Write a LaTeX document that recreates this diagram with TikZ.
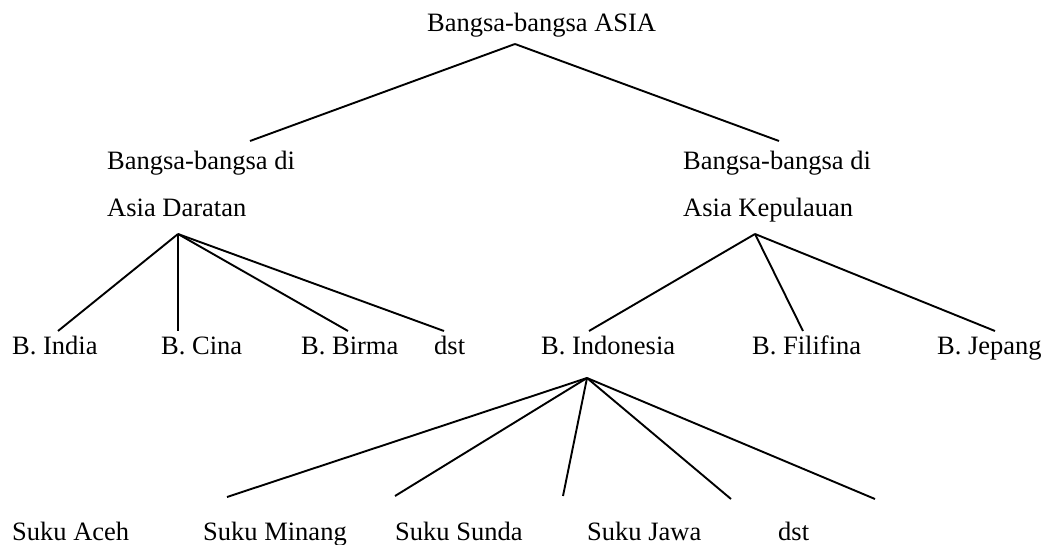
\documentclass[tikz,border=0pt]{standalone}
\usepackage{fontspec}
\setmainfont{Liberation Serif}

\begin{document}
\begin{tikzpicture}[
    x=1pt, y=-1pt,
    word/.style={anchor=base west, inner sep=0pt, font=\fontsize{26.5}{31}\selectfont},
    branch/.style={line width=1.9pt}
]
    \useasboundingbox (0,0) rectangle (1045,545);

    % Root
    \node[word] (asia) at (427,32) {Bangsa-bangsa ASIA};
    \coordinate (asiaFork) at (515,44);
    \coordinate (toDaratan) at (250,141);
    \coordinate (toKepulauan) at (779,141);
    \draw[branch] (asiaFork) -- (toDaratan);
    \draw[branch] (asiaFork) -- (toKepulauan);

    % Second level
    \node[word] (daratan) at (107,170) {Bangsa-bangsa di};
    \node[word] (daratanB) at (107,217) {Asia Daratan};
    \node[word] (kepulauan) at (683,170) {Bangsa-bangsa di};
    \node[word] (kepulauanB) at (683,217) {Asia Kepulauan};
    \coordinate (daratanFork) at (178,234);
    \coordinate (kepulauanFork) at (755,234);

    % Third level labels
    \node[word] (india) at (12,355) {B. India};
    \node[word] (cina) at (161,355) {B. Cina};
    \node[word] (birma) at (301,355) {B. Birma};
    \node[word] (dstA) at (434,355) {dst};
    \node[word] (indonesia) at (541,355) {B. Indonesia};
    \node[word] (filifina) at (752,355) {B. Filifina};
    \node[word] (jepang) at (937,355) {B. Jepang};

    % Branch ends above the third level
    \coordinate (toIndia) at (58,331);
    \coordinate (toCina) at (178,331);
    \coordinate (toBirma) at (348,331);
    \coordinate (toDstA) at (444,331);
    \coordinate (toIndonesia) at (589,331);
    \coordinate (toFilifina) at (803,331);
    \coordinate (toJepang) at (995,331);

    \draw[branch] (daratanFork) -- (toIndia);
    \draw[branch] (daratanFork) -- (toCina);
    \draw[branch] (daratanFork) -- (toBirma);
    \draw[branch] (daratanFork) -- (toDstA);
    \draw[branch] (kepulauanFork) -- (toIndonesia);
    \draw[branch] (kepulauanFork) -- (toFilifina);
    \draw[branch] (kepulauanFork) -- (toJepang);

    % Suku under B. Indonesia
    \coordinate (indonesiaFork) at (587,378);
    \coordinate (toMinang) at (227,497);
    \coordinate (toSunda) at (395,496);
    \coordinate (toTengah) at (563,496);
    \coordinate (toJawa) at (731,499);
    \coordinate (toDstB) at (875,499);

    \draw[branch] (indonesiaFork) -- (toMinang);
    \draw[branch] (indonesiaFork) -- (toSunda);
    \draw[branch] (indonesiaFork) -- (toTengah);
    \draw[branch] (indonesiaFork) -- (toJawa);
    \draw[branch] (indonesiaFork) -- (toDstB);

    \node[word] (aceh) at (12,540) {Suku Aceh};
    \node[word] (minang) at (203,540) {Suku Minang};
    \node[word] (sunda) at (395,540) {Suku Sunda};
    \node[word] (jawa) at (587,540) {Suku Jawa};
    \node[word] (dstB) at (778,540) {dst};
\end{tikzpicture}
\end{document}
